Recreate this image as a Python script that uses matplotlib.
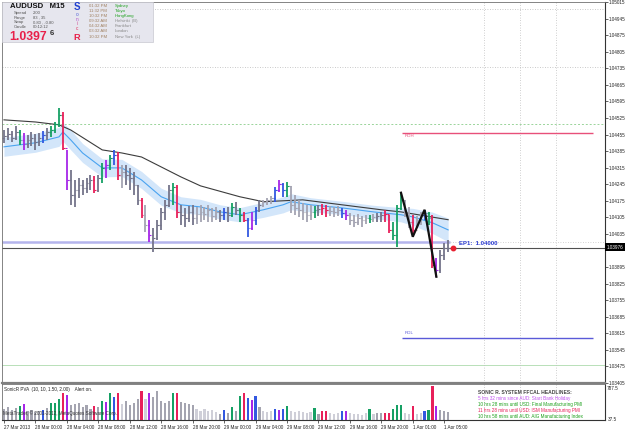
import numpy as np
import matplotlib
matplotlib.use('Agg')
import matplotlib.pyplot as plt
from matplotlib.patches import Rectangle

W, H = 625, 429

# ---------------- data (half-hour bars, AUDUSD) ----------------
bar_high = [1.04474, 1.04483, 1.04470, 1.04491, 1.04474, 1.04462, 1.04453, 1.04466, 1.04458, 1.04462,
            1.04470, 1.04483, 1.04491, 1.04508, 1.04567, 1.04550, 1.04390, 1.04306, 1.04263, 1.04272,
            1.04263, 1.04272, 1.04285, 1.04280, 1.04285, 1.04335, 1.04348, 1.04369, 1.04390, 1.04382,
            1.04327, 1.04327, 1.04314, 1.04297, 1.04242, 1.04187, 1.04158, 1.04095, 1.04061, 1.04095,
            1.04145, 1.04179, 1.04242, 1.04251, 1.04242, 1.04158, 1.04145, 1.04154, 1.04158, 1.04149,
            1.04158, 1.04149, 1.04158, 1.04145, 1.04149, 1.04137, 1.04145, 1.04149, 1.04166, 1.04171,
            1.04145, 1.04128, 1.04103, 1.04128, 1.04149, 1.04179, 1.04179, 1.04187, 1.04196, 1.04234,
            1.04263, 1.04251, 1.04255, 1.04238, 1.04200, 1.04179, 1.04166, 1.04158, 1.04158, 1.04154,
            1.04158, 1.04162, 1.04158, 1.04154, 1.04149, 1.04154, 1.04145, 1.04137, 1.04124, 1.04116,
            1.04120, 1.04111, 1.04116, 1.04116, 1.04120, 1.04124, 1.04128, 1.04137, 1.04116, 1.04086,
            1.04158, 1.04209, 1.04179, 1.04149, 1.04116, 1.04111, 1.04128, 1.04137, 1.04128, 1.04116,
            1.03934, 1.03968, 1.03997, 1.04010]
bar_low = [1.04420, 1.04432, 1.04424, 1.04432, 1.04411, 1.04390, 1.04398, 1.04407, 1.04390, 1.04407,
           1.04420, 1.04432, 1.04445, 1.04462, 1.04487, 1.04390, 1.04221, 1.04158, 1.04149, 1.04187,
           1.04200, 1.04209, 1.04221, 1.04209, 1.04213, 1.04251, 1.04272, 1.04306, 1.04327, 1.04263,
           1.04230, 1.04242, 1.04221, 1.04200, 1.04158, 1.04103, 1.04044, 1.04002, 1.03959, 1.04010,
           1.04052, 1.04095, 1.04149, 1.04158, 1.04103, 1.04073, 1.04065, 1.04086, 1.04073, 1.04078,
           1.04086, 1.04095, 1.04086, 1.04086, 1.04095, 1.04086, 1.04095, 1.04086, 1.04107, 1.04116,
           1.04086, 1.04086, 1.04023, 1.04052, 1.04073, 1.04128, 1.04149, 1.04158, 1.04162, 1.04171,
           1.04213, 1.04192, 1.04192, 1.04124, 1.04116, 1.04107, 1.04095, 1.04086, 1.04095, 1.04103,
           1.04111, 1.04116, 1.04107, 1.04111, 1.04107, 1.04111, 1.04103, 1.04095, 1.04073, 1.04065,
           1.04073, 1.04065, 1.04078, 1.04082, 1.04086, 1.04086, 1.04086, 1.04086, 1.04040, 1.04010,
           1.03980, 1.04137, 1.04107, 1.04061, 1.04023, 1.04061, 1.04073, 1.04095, 1.04073, 1.03892,
           1.03854, 1.03871, 1.03926, 1.03959]
bar_close = [1.04449, 1.04458, 1.04441, 1.04466, 1.04432, 1.04415, 1.04432, 1.04441, 1.04424, 1.04441,
             1.04453, 1.04466, 1.04474, 1.04500, 1.04538, 1.04398, 1.04263, 1.04200, 1.04221, 1.04242,
             1.04230, 1.04251, 1.04263, 1.04221, 1.04272, 1.04314, 1.04327, 1.04356, 1.04369, 1.04285,
             1.04297, 1.04285, 1.04272, 1.04242, 1.04179, 1.04116, 1.04073, 1.04031, 1.04018, 1.04073,
             1.04128, 1.04158, 1.04221, 1.04234, 1.04128, 1.04116, 1.04103, 1.04128, 1.04103, 1.04120,
             1.04128, 1.04120, 1.04137, 1.04111, 1.04128, 1.04116, 1.04128, 1.04116, 1.04149, 1.04137,
             1.04116, 1.04095, 1.04061, 1.04095, 1.04137, 1.04158, 1.04171, 1.04179, 1.04187, 1.04221,
             1.04247, 1.04221, 1.04238, 1.04158, 1.04145, 1.04137, 1.04128, 1.04116, 1.04128, 1.04137,
             1.04141, 1.04145, 1.04137, 1.04133, 1.04128, 1.04137, 1.04124, 1.04116, 1.04095, 1.04086,
             1.04103, 1.04095, 1.04103, 1.04099, 1.04107, 1.04111, 1.04116, 1.04120, 1.04052, 1.04031,
             1.04145, 1.04179, 1.04128, 1.04086, 1.04052, 1.04095, 1.04116, 1.04124, 1.04103, 1.03904,
             1.03883, 1.03947, 1.03976, 1.03976]
first_open = 1.04441

# PVA colour code per bar: n normal, l low volume, r red, p purple, g green, b blue
pva_codes = ("nnnngpnnnn" "bngggrpnnn" "nnnrngpgbr" "lnnnnrlpnn" "nnngrnnnnl"
             "lllllnbngn" "grbpbnlllb" "pbgllllllg" "nrrlllbpll" "lllglnnrrg"
             "ggllrllbgr" "pnnn")
volume = [258, 302, 236, 280, 324, 368, 214, 236, 192, 214,
          236, 280, 390, 390, 478, 610, 566, 346, 368, 390,
          302, 346, 258, 324, 302, 434, 412, 610, 522, 610,
          368, 434, 346, 390, 478, 654, 478, 610, 522, 654,
          434, 390, 434, 610, 610, 412, 390, 368, 346, 258,
          214, 258, 214, 236, 192, 148, 236, 170, 302, 214,
          544, 610, 500, 456, 544, 302, 214, 192, 214, 258,
          236, 258, 324, 214, 192, 214, 192, 170, 192, 280,
          148, 214, 214, 170, 148, 170, 214, 214, 170, 148,
          148, 126, 170, 258, 148, 170, 170, 170, 170, 258,
          346, 346, 170, 148, 324, 148, 170, 214, 236, 764,
          324, 236, 214, 192]

slow_ma_idx = [0, 8, 14, 17, 21, 25, 30, 35, 40, 45, 50, 60, 66, 76, 86, 96, 101, 113]
slow_ma = [1.04517, 1.04508, 1.04496, 1.04474, 1.04432, 1.04390, 1.04377, 1.04360, 1.04318,
           1.04276, 1.04238, 1.04192, 1.04171, 1.04179, 1.04158, 1.04137, 1.04128, 1.04095]

ema_idx = [0, 8, 14, 15, 17, 20, 25, 30, 35, 40, 45, 50, 55, 60, 66, 71, 73, 78, 86, 94, 101, 104, 109, 113]
ema_mid = [1.04403, 1.04420, 1.04445, 1.04466, 1.04432, 1.04377, 1.04314, 1.04314, 1.04263, 1.04192,
           1.04158, 1.04149, 1.04128, 1.04116, 1.04137, 1.04158, 1.04171, 1.04158, 1.04145, 1.04128,
           1.04116, 1.04107, 1.04082, 1.04052]
ema_half = [0.00040, 0.00040, 0.00040, 0.00040, 0.00042, 0.00040, 0.00038, 0.00036, 0.00036, 0.00036,
            0.00034, 0.00032, 0.00030, 0.00030, 0.00032, 0.00034, 0.00034, 0.00030, 0.00028, 0.00028,
            0.00030, 0.00036, 0.00045, 0.00050]

zigzag_idx = [101, 104, 107, 110]
zigzag_price = [1.04209, 1.04023, 1.04137, 1.03854]

level_top_dotted = 1.04987
level_mid_dotted = 1.04742
level_green = 1.04500
rdh = 1.04462
rdl = 1.03594
ep1 = 1.04000
level_low_green = 1.03483
future_lines = [122.1, 131.3, 140.5]

price_ticks = [1.05015, 1.04945, 1.04875, 1.04805, 1.04735, 1.04665, 1.04595, 1.04525, 1.04455,
               1.04385, 1.04315, 1.04245, 1.04175, 1.04105, 1.04035, 1.03895, 1.03825, 1.03755,
               1.03685, 1.03615, 1.03545, 1.03475, 1.03405]
time_idx = [0, 8, 16, 24, 32, 40, 48, 56, 64, 72, 80, 88, 96, 104, 112]
time_labels = ["27 Mar 2013", "28 Mar 00:00", "28 Mar 04:00", "28 Mar 08:00", "28 Mar 12:00",
               "28 Mar 16:00", "28 Mar 20:00", "29 Mar 00:00", "29 Mar 04:00", "29 Mar 08:00",
               "29 Mar 12:00", "29 Mar 16:00", "29 Mar 20:00", "1 Apr 01:00", "1 Apr 05:00"]

# ---------------- figure ----------------
plt.rcParams['font.family'] = ['Liberation Sans', 'DejaVu Sans']
fig = plt.figure(figsize=(W / 100, H / 100), dpi=100)
fig.patch.set_facecolor('white')


def fx(px):
    return px / W


def fy(py):
    return 1 - py / H


ax = fig.add_axes([fx(2), fy(383), fx(605) - fx(2), fy(2) - fy(383)])
ax2 = fig.add_axes([fx(2), fy(420), fx(605) - fx(2), fy(384) - fy(420)])

XMIN, XMAX = -0.5, 152.9
n = len(bar_close)
idx = np.arange(n)
closes = np.array(bar_close)
opens = np.r_[first_open, closes[:-1]]
highs = np.array(bar_high)
lows = np.array(bar_low)

col_map = {'n': '#74748a', 'l': '#a4a4b2', 'r': '#e8205a', 'p': '#a626e8', 'g': '#16a064', 'b': '#3358e0'}
vcol_map = {'n': '#a4a4b0', 'l': '#cfcfd8', 'r': '#e8205a', 'p': '#a626e8', 'g': '#16a064', 'b': '#3358e0'}
bar_cols = [col_map[c] for c in pva_codes]
vol_cols = [vcol_map[c] for c in pva_codes]

# EMA channel
e_idx = np.array(ema_idx)
e_mid = np.array(ema_mid)
e_half = np.array(ema_half)
ax.fill_between(e_idx, e_mid - e_half, e_mid + e_half, color='#d3e6fa', lw=0, zorder=1)
ax.plot(e_idx, e_mid, color='#4aa3f0', lw=0.8, zorder=2)
ax.plot(slow_ma_idx, slow_ma, color='#3c3c3c', lw=0.8, zorder=2)

# horizontal levels
ax.axhline(level_top_dotted, color='#b8b8b8', lw=0.6, ls=(0, (1, 2)), zorder=0)
ax.axhline(level_mid_dotted, color='#b8b8b8', lw=0.6, ls=(0, (1, 2)), zorder=0)
ax.axhline(level_green, color='#9ad49a', lw=0.7, ls=(0, (2, 2)), zorder=0)
ax.axhline(level_low_green, color='#b8e0b8', lw=0.7, zorder=0)
ax.hlines(rdh, 101.3, 149.8, color='#e8507a', lw=1.0, zorder=2)
ax.hlines(rdl, 101.3, 149.8, color='#5a5ad8', lw=1.0, zorder=2)
ax.text(102.0, rdh - 0.00012, 'RDH', fontsize=3.2, color='#e8507a', va='center', ha='left')
ax.text(102.0, rdl + 0.00022, 'RDL', fontsize=3.2, color='#5a5ad8', va='center', ha='left')
ax.hlines(ep1, XMIN, 113.4, color='#b4b4ec', lw=1.8, zorder=1)
ax.hlines(ep1, 113.4, XMAX, color='#c4c4c4', lw=0.6, linestyles=(0, (1, 2)), zorder=1)
ax.axhline(closes[-1], color='#505050', lw=0.8, zorder=1)
for xv in future_lines:
    ax.axvline(xv, color='#c0c0c0', lw=0.6, ls=(0, (1, 2)), zorder=0)
    ax2.axvline(xv, color='#c0c0c0', lw=0.6, ls=(0, (1, 2)), zorder=0)

# price bars
ax.vlines(idx, lows, highs, colors=bar_cols, lw=1.3, zorder=3)
ax.hlines(opens, idx - 0.45, idx, colors=bar_cols, lw=0.8, zorder=3)
ax.hlines(closes, idx, idx + 0.45, colors=bar_cols, lw=0.8, zorder=3)

# zigzag
ax.plot(zigzag_idx, zigzag_price, color='#111111', lw=1.6, zorder=4, solid_joinstyle='miter')

# EP1 marker
ax.plot([114.3], [closes[-1]], 'o', color='#e82030', ms=3.2, zorder=5)
ax.text(115.8, ep1 - 0.00004, 'EP1:  1.04000', fontsize=4.3, color='#2a3ad0', fontweight='bold',
        va='center', ha='left', zorder=5)

ax.set_xlim(XMIN, XMAX)
ax.set_ylim(1.03407, 1.05015)
ax.set_xticks([])
ax.yaxis.tick_right()
ax.set_yticks(price_ticks)
ax.set_yticklabels(['%.5f' % v for v in price_ticks])
ax.tick_params(axis='y', labelsize=3.3, length=2, width=0.5, pad=1, colors='#222222')
for s in ['left', 'top']:
    ax.spines[s].set_color('#707070')
    ax.spines[s].set_linewidth(0.6)
ax.spines['right'].set_color('#333333')
ax.spines['right'].set_linewidth(0.8)
ax.spines['bottom'].set_color('#808080')
ax.spines['bottom'].set_linewidth(1.6)

# current price box
fig.patches.append(Rectangle((fx(605), fy(251)), fx(20), fy(243) - fy(251),
                             transform=fig.transFigure, facecolor='black', edgecolor='none'))
fig.text(fx(607), fy(247), '1.03976', fontsize=3.3, color='white', va='center', ha='left')

# volume panel
ax2.bar(idx, volume, width=0.55, color=vol_cols, bottom=0, zorder=2)
ax2.set_xlim(XMIN, XMAX)
ax2.set_ylim(15.5, 809.5)
ax2.yaxis.tick_right()
ax2.set_yticks([37.5])
ax2.set_yticklabels(['37.5'])
ax2.tick_params(axis='y', labelsize=3.3, length=0, pad=2, colors='#222222')
fig.text(fx(607), fy(389), '787.5', fontsize=3.3, color='#222222', va='center', ha='left')
ax2.set_xticks(time_idx)
ax2.set_xticklabels(time_labels)
for lab in ax2.get_xticklabels():
    lab.set_horizontalalignment('left')
ax2.tick_params(axis='x', labelsize=3.3, length=2.5, width=0.5, pad=1, colors='#222222')
for s in ['left', 'top']:
    ax2.spines[s].set_color('#707070')
    ax2.spines[s].set_linewidth(0.6)
ax2.spines['right'].set_color('#333333')
ax2.spines['right'].set_linewidth(0.8)
ax2.spines['bottom'].set_color('#333333')
ax2.spines['bottom'].set_linewidth(0.8)

fig.text(fx(4), fy(389), 'SonicR PVA  (10, 10, 1.50, 2.00)    Alert on.', fontsize=3.3,
         color='#222222', va='center', ha='left')
fig.text(fx(3), fy(413), 'MetaTrader, \u00a9 2001-2012, MetaQuotes Software Corp.', fontsize=3.3,
         color='#333333', va='center', ha='left')

head_x = fx(478)
fig.text(head_x, fy(392), 'SONIC R. SYSTEM FFCAL HEADLINES:', fontsize=3.6, fontweight='bold',
         color='#444444', va='center', ha='left')
headlines = [("5 hrs 32 mins since AUD: Start Bank Holiday", '#c050f0'),
             ("10 hrs 28 mins until USD: Final Manufacturing PMI", '#1aa01a'),
             ("11 hrs 28 mins until USD: ISM Manufacturing PMI", '#e8205a'),
             ("10 hrs 58 mins until AUD: AIG Manufacturing Index", '#1aa01a')]
for k, (txt, c) in enumerate(headlines):
    fig.text(head_x, fy(398.5 + 6 * k), txt, fontsize=3.3, color=c, va='center', ha='left')

# info box (top-left)
fig.patches.append(Rectangle((fx(2), fy(42)), fx(151), fy(2) - fy(42), transform=fig.transFigure,
                             facecolor='#e6e6ee', edgecolor='#c8c8d0', lw=0.5, zorder=10))
fig.text(fx(10), fy(6.5), 'AUDUSD   M15', fontsize=5.6, fontweight='bold', color='#111111',
         va='center', ha='left', zorder=11)
info_rows = [('Spread', '2.00'), ('Range', '83 , 35'), ('Swap', '0.80 , -0.80'), ('Candle', '00:12:12')]
for k, (a, b) in enumerate(info_rows):
    fig.text(fx(14), fy(13 + 4.6 * k), a, fontsize=3.0, color='#555555', va='center', ha='left', zorder=11)
    fig.text(fx(33), fy(13 + 4.6 * k), b, fontsize=3.0, color='#555555', va='center', ha='left', zorder=11)
fig.text(fx(9), fy(36.5), '1.0397', fontsize=8.8, fontweight='bold', color='#e8204a',
         va='center', ha='left', zorder=11)
fig.text(fx(50), fy(33.5), '6', fontsize=5.5, fontweight='bold', color='#333333',
         va='center', ha='left', zorder=11)
fig.text(fx(77), fy(7), 'S', fontsize=7, fontweight='bold', color='#2040d0', va='center', ha='center', zorder=11)
for k, (ch, c) in enumerate([('o', '#5060d8'), ('n', '#b050c8'), ('i', '#d04890'), ('c', '#e03060')]):
    fig.text(fx(77), fy(14.5 + 4.6 * k), ch, fontsize=3.4, color=c, va='center', ha='center', zorder=11)
fig.text(fx(77), fy(37.5), 'R', fontsize=6.6, fontweight='bold', color='#e8204a', va='center', ha='center', zorder=11)

sessions = [('01:32 PM', 'Sydney', '#1aa01a'), ('11:32 PM', 'Tokyo', '#1aa01a'),
            ('10:32 PM', 'HongKong', '#1aa01a'), ('09:32 AM', 'Helsinki  (B)', '#8a8a8a'),
            ('04:32 AM', 'Frankfurt', '#8a8a8a'), ('03:32 AM', 'London', '#8a8a8a'),
            ('10:32 PM', 'New York  (L)', '#8a8a8a')]
for k, (t, city, c) in enumerate(sessions):
    yy = 6 + 5.1 * k
    fig.text(fx(89), fy(yy), t, fontsize=3.1, color='#a08060', va='center', ha='left', zorder=11)
    fig.text(fx(115), fy(yy), city, fontsize=3.1, color=c, va='center', ha='left', zorder=11)

fig.savefig('out.png', dpi=100, facecolor='white')
